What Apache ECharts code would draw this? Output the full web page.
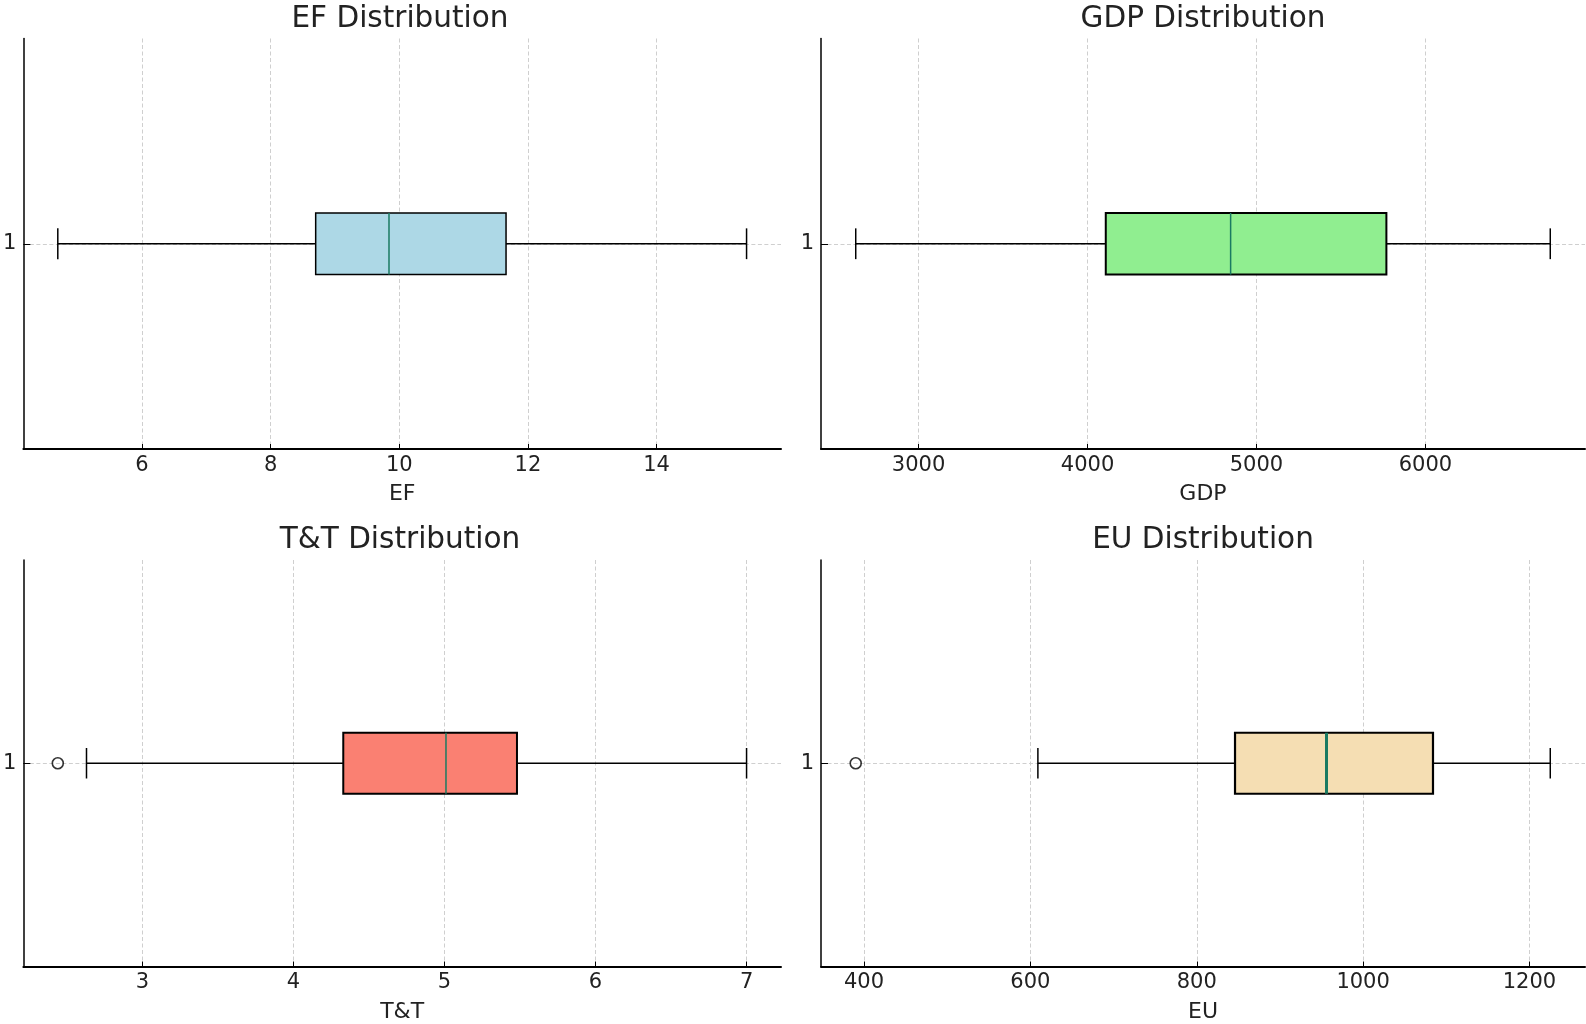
<!DOCTYPE html>
<html>
<head>
<meta charset="utf-8">
<title>Distributions</title>
<script src="https://cdn.jsdelivr.net/npm/echarts@6.0.0/dist/echarts.min.js"></script>
<style>
    html, body { margin: 0; padding: 0; background: #fff; }
    #main { width: 1586px; height: 1024px; }
</style>
</head>
<body>
<div id="main"></div>
<script>
// data: [lower whisker, Q1, median, Q3, upper whisker]
var names = ['EF', 'GDP', 'T&T', 'EU'];
var efBox = [4.69, 8.70, 9.84, 11.66, 15.40];
var gdpBox = [2628, 4108, 4847, 5769, 6739];
var ttBox = [2.63, 4.33, 5.01, 5.48, 7.00];
var euBox = [609, 846, 956, 1084, 1225];
var efOutliers = [];
var gdpOutliers = [];
var ttOutliers = [2.44];
var euOutliers = [390];
var efTicks = [6, 8, 10, 12, 14];
var gdpTicks = [3000, 4000, 5000, 6000];
var ttTicks = [3, 4, 5, 6, 7];
var euTicks = [400, 600, 800, 1000, 1200];
var yTicks = [1];

var boxes = [efBox, gdpBox, ttBox, euBox];
var outliers = [efOutliers, gdpOutliers, ttOutliers, euOutliers];
var ticks = [efTicks, gdpTicks, ttTicks, euTicks];

// look
var FONT = 'DejaVu Sans';
var TEXT = '#222';
var boxColors = ['#add8e6', '#90ee90', '#fa8072', '#f5deb3'];
var medianColor = '#1a7a62';
var borderW = [1.5, 2, 2, 2.2];
var medianW = [1.5, 1.5, 1.5, 3];
var frames = [
    {left: 19, top: 38.5, width: 762, height: 410.5},
    {left: 821, top: 38.5, width: 764, height: 410.5},
    {left: 19, top: 560, width: 762, height: 409},
    {left: 821, top: 560, width: 764, height: 409}
];
var titleTops = [19.4, 19.4, 540, 540];
var gridDash = {color: '#cfcfcf', width: 1, type: [4, 2.5]};

var myChart = echarts.init(document.getElementById('main'));

// matplotlib style 5% margin around the data
function padRange(box, out) {
    var all = box.concat(out);
    var lo = Math.min.apply(null, all);
    var hi = Math.max.apply(null, all);
    var pad = (hi - lo) * 0.05;
    return [lo - pad, hi + pad];
}

function plain(v) {
    return String(v);
}

function blackLine(w) {
    return {stroke: '#000', lineWidth: w, fill: null};
}

function makeBoxRenderer(k) {
    return function (params, api) {
        var y = api.value(0);
        var lo = api.coord([api.value(1), y]);
        var q1 = api.coord([api.value(2), y]);
        var md = api.coord([api.value(3), y]);
        var q3 = api.coord([api.value(4), y]);
        var hi = api.coord([api.value(5), y]);
        var h = api.size([0, 0.15])[1];
        var cy = q1[1];
        return {
            type: 'group',
            children: [
                {type: 'line', shape: {x1: lo[0], y1: cy, x2: q1[0], y2: cy}, style: blackLine(1.5)},
                {type: 'line', shape: {x1: q3[0], y1: cy, x2: hi[0], y2: cy}, style: blackLine(1.5)},
                {type: 'line', shape: {x1: lo[0], y1: cy - h / 4, x2: lo[0], y2: cy + h / 4}, style: blackLine(1.5)},
                {type: 'line', shape: {x1: hi[0], y1: cy - h / 4, x2: hi[0], y2: cy + h / 4}, style: blackLine(1.5)},
                {
                    type: 'rect',
                    shape: {x: q1[0], y: cy - h / 2, width: q3[0] - q1[0], height: h},
                    style: {fill: boxColors[k], stroke: '#000', lineWidth: borderW[k]}
                },
                {
                    type: 'line',
                    shape: {x1: md[0], y1: cy - h / 2, x2: md[0], y2: cy + h / 2},
                    style: {stroke: medianColor, lineWidth: medianW[k]}
                }
            ]
        };
    };
}

var titles = [], grids = [], xAxes = [], yAxes = [], series = [];

for (var k = 0; k < 4; k++) {
    var f = frames[k];
    var range = padRange(boxes[k], outliers[k]);

    titles.push({
        text: names[k] + ' Distribution',
        left: f.left + f.width / 2,
        top: titleTops[k],
        padding: 0,
        textAlign: 'center',
        textVerticalAlign: 'middle',
        textStyle: {fontFamily: FONT, fontSize: 29.5, fontWeight: 'normal', color: TEXT}
    });

    grids.push({left: f.left, top: f.top, width: f.width, height: f.height, containLabel: false});

    xAxes.push({
        gridIndex: k,
        type: 'value',
        min: range[0],
        max: range[1],
        name: names[k],
        nameLocation: 'middle',
        nameGap: 34.5,
        nameTextStyle: {fontFamily: FONT, fontSize: 22, lineHeight: 22, color: TEXT},
        axisLine: {show: true, onZero: false, lineStyle: {color: '#000', width: 2}},
        axisTick: {show: true, inside: true, length: 5, customValues: ticks[k], lineStyle: {color: '#000', width: 1}},
        axisLabel: {
            customValues: ticks[k], margin: 6, formatter: plain,
            fontFamily: FONT, fontSize: 21, lineHeight: 21, color: TEXT
        },
        splitLine: {show: true, lineStyle: gridDash}
    });

    yAxes.push({
        gridIndex: k,
        type: 'value',
        min: 0.5,
        max: 1.5,
        axisLine: {show: true, onZero: false, lineStyle: {color: '#000', width: 1.5}},
        axisTick: {show: true, inside: true, length: 7, customValues: yTicks, lineStyle: {color: '#000', width: 1}},
        axisLabel: {
            customValues: yTicks, margin: 7, formatter: plain,
            fontFamily: FONT, fontSize: 21, lineHeight: 21, color: TEXT
        },
        splitLine: {show: true, lineStyle: gridDash}
    });

    series.push({
        type: 'custom',
        xAxisIndex: k,
        yAxisIndex: k,
        silent: true,
        renderItem: makeBoxRenderer(k),
        encode: {x: [1, 2, 3, 4, 5], y: 0},
        data: [[1].concat(boxes[k])],
        z: 3
    });

    if (outliers[k].length) {
        series.push({
            type: 'scatter',
            xAxisIndex: k,
            yAxisIndex: k,
            silent: true,
            symbol: 'circle',
            symbolSize: 11,
            itemStyle: {color: 'rgba(0,0,0,0)', borderColor: '#000', borderWidth: 1.6},
            data: outliers[k].map(function (v) { return [v, 1]; }),
            z: 4
        });
    }
}

var option = {
    animation: false,
    backgroundColor: '#fff',
    title: titles,
    grid: grids,
    xAxis: xAxes,
    yAxis: yAxes,
    series: series
};

myChart.setOption(option);
</script>
</body>
</html>
